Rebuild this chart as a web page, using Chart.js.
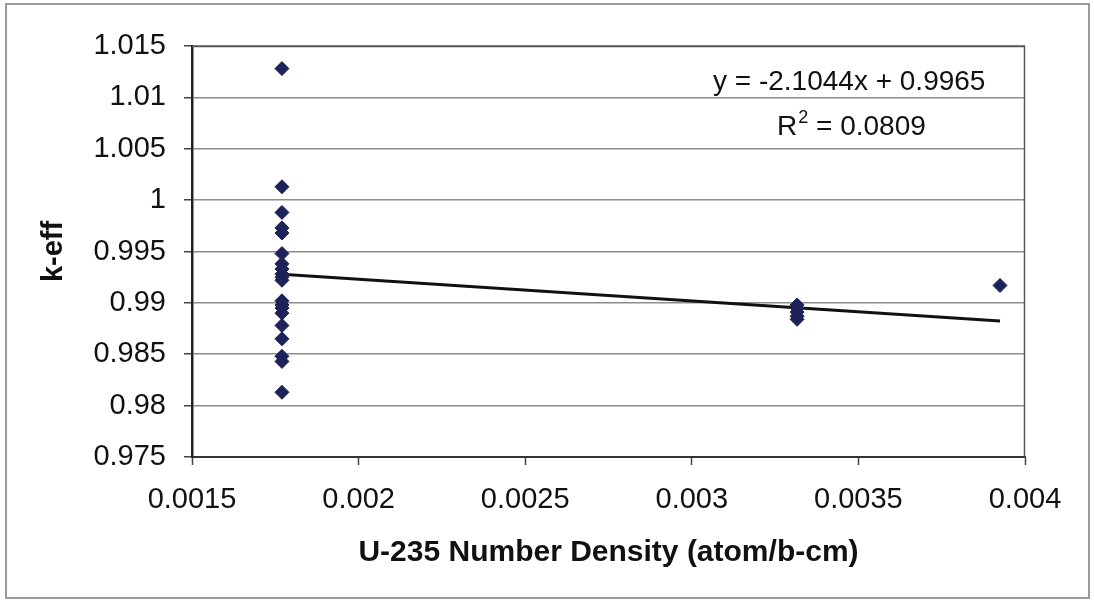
<!DOCTYPE html>
<html>
<head>
<meta charset="utf-8">
<script src="https://cdn.jsdelivr.net/npm/chart.js@4.4.1/dist/chart.umd.min.js"></script>
<style>
  html, body { margin: 0; padding: 0; background: #ffffff; }
  #wrap { width: 1094px; height: 602px; position: relative; }
</style>
</head>
<body>
<div id="wrap"><canvas id="c" width="1094" height="602"></canvas></div>
<script>
// U-235 number density (atom/b-cm) for each case
const density = [
  0.00177, 0.00177, 0.00177, 0.00177, 0.00177, 0.00177, 0.00177, 0.00177, 0.00177, 0.00177,
  0.00177, 0.00177, 0.00177, 0.00177, 0.00177, 0.00177, 0.00177, 0.00177, 0.00177, 0.00177,
  0.003316, 0.003316, 0.003316, 0.003316, 0.003316,
  0.003925
];
// k-eff for each case
const keff = [
  1.0128, 1.0013, 0.9988, 0.9973, 0.9968, 0.9948, 0.9938, 0.9933, 0.9928, 0.9925,
  0.9922, 0.9902, 0.9898, 0.9895, 0.9890, 0.9878, 0.9865, 0.9848, 0.9843, 0.9813,
  0.9898, 0.9895, 0.9891, 0.9887, 0.9884,
  0.9917
];
// linear trend: y = slope * x + intercept
const slope = -2.1044;
const intercept = 0.9965;
const rSquared = '0.0809';

const xTicks = [0.0015, 0.002, 0.0025, 0.003, 0.0035, 0.004];
const yTicks = [0.975, 0.98, 0.985, 0.99, 0.995, 1, 1.005, 1.01, 1.015];

const points = density.map((x, i) => ({ x: x, y: keff[i] }));
const xMin = Math.min(...density), xMax = Math.max(...density);
const trend = [xMin, xMax].map(x => ({ x: x, y: slope * x + intercept }));

const fmt = v => String(Number(Number(v).toFixed(5)));
const FAMILY = '"Liberation Sans", Arial, sans-serif';

// outer frame, plot frame and the regression caption
const decor = {
  id: 'decor',
  beforeDraw(chart) {
    const ctx = chart.ctx;
    ctx.save();
    ctx.fillStyle = '#ffffff';
    ctx.fillRect(0, 0, chart.width, chart.height);
    ctx.strokeStyle = '#9a9a9a';
    ctx.lineWidth = 2;
    ctx.strokeRect(6, 4, 1083, 594);
    ctx.restore();
  },
  afterDatasetsDraw(chart) {
    const { ctx, chartArea: a } = chart;
    ctx.save();
    ctx.strokeStyle = '#555555';
    ctx.lineWidth = 1.5;
    ctx.beginPath();
    ctx.moveTo(a.left, a.top + 0.5);
    ctx.lineTo(a.right - 0.5, a.top + 0.5);
    ctx.lineTo(a.right - 0.5, a.bottom);
    ctx.stroke();

    ctx.fillStyle = '#111111';
    ctx.textBaseline = 'alphabetic';
    ctx.textAlign = 'left';
    ctx.font = '28px ' + FAMILY;
    const eq = 'y = ' + slope + 'x + ' + intercept;
    ctx.fillText(eq, a.right - 312, a.top + 44);
    // R² with a raised, smaller 2
    let x = a.right - 248;
    const y2 = a.top + 89;
    ctx.fillText('R', x, y2);
    x += ctx.measureText('R').width;
    ctx.font = '18px ' + FAMILY;
    ctx.fillText('2', x + 1, y2 - 12);
    x += ctx.measureText('2').width + 1;
    ctx.font = '28px ' + FAMILY;
    ctx.fillText(' = ' + rSquared, x, y2);
    ctx.restore();
  }
};

new Chart(document.getElementById('c'), {
  type: 'scatter',
  data: {
    datasets: [
      {
        label: 'k-eff',
        data: points,
        pointStyle: 'rectRot',
        pointRadius: 7,
        pointHoverRadius: 7,
        backgroundColor: '#1d2259',
        borderColor: '#1d2259',
        borderWidth: 1,
        showLine: false,
        order: 1
      },
      {
        label: 'Linear',
        data: trend,
        showLine: true,
        pointRadius: 0,
        borderColor: '#111111',
        borderWidth: 3,
        order: 2
      }
    ]
  },
  options: {
    responsive: false,
    animation: false,
    devicePixelRatio: 1,
    layout: { padding: { left: 0, right: 69, top: 46, bottom: 0 } },
    plugins: {
      legend: { display: false },
      tooltip: { enabled: false },
      title: { display: false }
    },
    scales: {
      x: {
        type: 'linear',
        min: 0.0015,
        max: 0.004,
        afterFit(s) { s.height = 145; },
        afterBuildTicks(s) { s.ticks = xTicks.map(v => ({ value: v })); },
        ticks: {
          callback: fmt,
          color: '#111111',
          font: { family: FAMILY, size: 29 },
          padding: 18,
          maxRotation: 0,
          autoSkip: false
        },
        grid: {
          display: true,
          drawOnChartArea: false,
          drawTicks: true,
          tickLength: 8,
          tickColor: '#444444',
          tickWidth: 1.5
        },
        border: { display: true, color: '#333333', width: 2 },
        title: {
          display: true,
          text: 'U-235 Number Density (atom/b-cm)',
          color: '#111111',
          font: { family: FAMILY, size: 30, weight: 'bold' },
          padding: { top: 0, bottom: 31 }
        }
      },
      y: {
        type: 'linear',
        min: 0.975,
        max: 1.015,
        afterFit(s) { s.width = 192; },
        afterBuildTicks(s) { s.ticks = yTicks.map(v => ({ value: v })); },
        ticks: {
          callback: fmt,
          color: '#111111',
          font: { family: FAMILY, size: 29 },
          padding: 18,
          autoSkip: false
        },
        grid: {
          display: true,
          color: '#8c8c8c',
          lineWidth: 1.5,
          drawTicks: true,
          tickLength: 8,
          tickColor: '#444444',
          tickWidth: 1.5
        },
        border: { display: true, color: '#222222', width: 2.5 },
        title: {
          display: true,
          text: 'k-eff',
          color: '#111111',
          font: { family: FAMILY, size: 29, weight: 'bold' },
          padding: { top: 37, bottom: 0 }
        }
      }
    }
  },
  plugins: [decor]
});
</script>
</body>
</html>
